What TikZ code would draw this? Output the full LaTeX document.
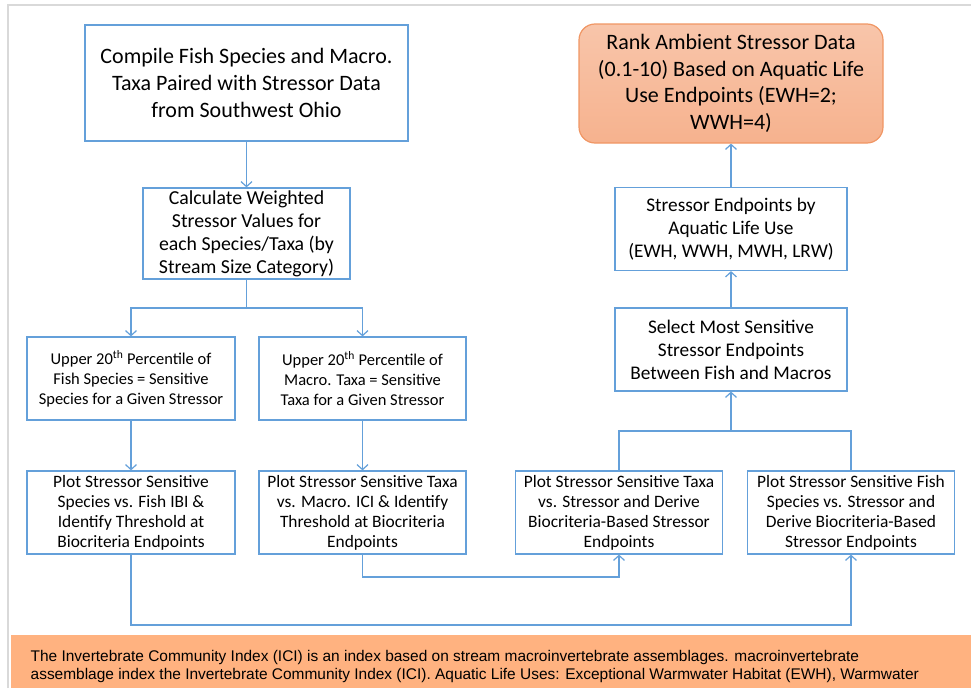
\documentclass[tikz,border=0pt]{standalone}
\usepackage{fontspec}
\setmainfont{Carlito}
\newfontfamily\notefont{Liberation Sans}
\usepackage{tikz}
\usetikzlibrary{arrows.meta,shapes}
\definecolor{boxblue}{RGB}{100,160,218}
\definecolor{rankfill}{RGB}{246,178,142}
\definecolor{rankedge}{RGB}{240,150,100}
\definecolor{noteorange}{RGB}{255,178,128}
\definecolor{framegray}{RGB}{217,217,217}
\tikzset{flowbox/.style={draw=boxblue, line width=1.2pt, fill=white, align=center,
    inner sep=0pt, minimum width=207pt, minimum height=83pt,
    font=\fontsize{17.4}{20}\selectfont},
  widebox/.style={flowbox, minimum width=232pt, font=\fontsize{19.3}{23}\selectfont},
  rankbox/.style={draw=rankedge, line width=1.2pt, rounded corners=16pt, align=center,
    inner sep=0pt, minimum width=304pt, minimum height=119pt,
    top color=rankfill!75!white, bottom color=rankfill,
    font=\fontsize{22}{26.7}\selectfont},
  arr/.style={draw=boxblue, line width=1.2pt, -{Straight Barb[length=5pt,width=11pt]}},
  wire/.style={draw=boxblue, line width=1.2pt}}

\begin{document}
\begin{tikzpicture}[x=1pt, y=-1pt]
  \useasboundingbox (0,0) rectangle (971,688);
  \draw[framegray, line width=2pt] (8,688) -- (8,5) -- (971,5);
  % left column
  \node[flowbox, minimum width=323pt, minimum height=116pt, font=\fontsize{22}{27}\selectfont] (compile) at (246.5,83)
    {Compile Fish Species and Macro.\\Taxa Paired with Stressor Data\\from Southwest Ohio};
  \node[flowbox, minimum height=91pt, font=\fontsize{19.8}{23}\selectfont] (calc) at (246.5,233.5)
    {Calculate Weighted\\Stressor Values for\\each Species/Taxa (by\\Stream Size Category)};
  \node[flowbox, minimum width=208pt, font=\fontsize{16.5}{20}\selectfont] (pctfish) at (131,378.5)
    {Upper 20\textsuperscript{th} Percentile of\\Fish Species = Sensitive\\Species for a Given Stressor};
  \node[flowbox, font=\fontsize{16.5}{20}\selectfont] (pctmacro) at (362.5,378.5)
    {Upper 20\textsuperscript{th} Percentile of\\Macro. Taxa = Sensitive\\Taxa for a Given Stressor};
  \node[flowbox, minimum width=208pt] (plotfish) at (131,512.5)
    {Plot Stressor Sensitive\\Species vs. Fish IBI \&\\Identify Threshold at\\Biocriteria Endpoints};
  \node[flowbox] (plotmacro) at (362.5,512.5)
    {Plot Stressor Sensitive Taxa\\vs. Macro. ICI \& Identify\\Threshold at Biocriteria\\Endpoints};
  % right column
  \node[rankbox] (rank) at (731,83.5)
    {Rank Ambient Stressor Data\\(0.1-10) Based on Aquatic Life\\Use Endpoints (EWH=2;\\WWH=4)};
  \node[widebox] (alu) at (731,229)
    {Stressor Endpoints by\\Aquatic Life Use\\(EWH, WWH, MWH, LRW)};
  \node[widebox] (select) at (731,349.5)
    {Select Most Sensitive\\Stressor Endpoints\\Between Fish and Macros};
  \node[flowbox] (derivetaxa) at (619,512.5)
    {Plot Stressor Sensitive Taxa\\vs. Stressor and Derive\\Biocriteria-Based Stressor\\Endpoints};
  \node[flowbox] (derivefish) at (851,512.5)
    {Plot Stressor Sensitive Fish\\Species vs. Stressor and\\Derive Biocriteria-Based\\Stressor Endpoints};
  % bends
  \coordinate (fork) at (246.5,308);
  \coordinate (join) at (731,431);
  \coordinate (midbus) at (362.5,577);
  \coordinate (lowbus) at (131,625);
  \draw[arr] (compile) -- (calc);
  \draw[arr] (calc.south) -- (fork) -| (pctfish.north);
  \draw[arr] (fork) -| (pctmacro.north);
  \draw[arr] (pctfish) -- (plotfish);
  \draw[arr] (pctmacro) -- (plotmacro);
  \draw[arr] (plotmacro.south) -- (midbus) -| (derivetaxa.south);
  \draw[arr] (plotfish.south) -- (lowbus) -| (derivefish.south);
  \draw[wire] (derivetaxa.north) |- (join) -| (derivefish.north);
  \draw[arr] (join) -- (select.south);
  \draw[arr] (select) -- (alu);
  \draw[arr] (alu) -- (rank);
  % note band
  \fill[noteorange] (11,635) rectangle (971,688);
  \node[anchor=west, align=left, inner sep=0pt, font=\notefont\fontsize{15.45}{18}\selectfont] (note) at (30.5,666)
    {The Invertebrate Community Index (ICI) is an index based on stream macroinvertebrate assemblages. macroinvertebrate\\
     assemblage index the Invertebrate Community Index (ICI). Aquatic Life Uses: Exceptional Warmwater Habitat (EWH), Warmwater};
\end{tikzpicture}
\end{document}
